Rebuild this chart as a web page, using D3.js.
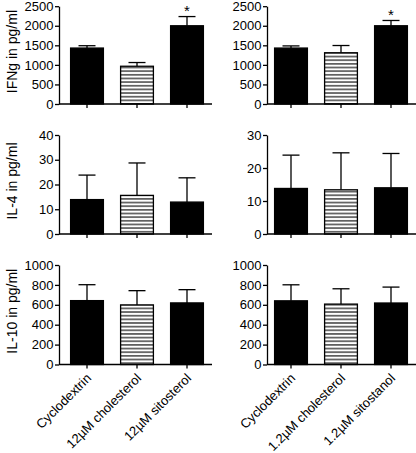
<!DOCTYPE html>
<html><head><meta charset="utf-8">
<script src="https://cdn.jsdelivr.net/npm/d3@7"></script>
<style>
html,body{margin:0;padding:0;background:#fff;}
svg{display:block;font-family:"Liberation Sans",Arial,Helvetica,sans-serif;}
</style></head>
<body>
<script>
// ---- data ----
const categoriesLeft = ["Cyclodextrin", "12\u00b5M cholesterol", "12\u00b5M sitosterol"];
const categoriesRight = ["Cyclodextrin", "1.2\u00b5M cholesterol", "1.2\u00b5M sitostanol"];
const fills = ["solid", "hatch", "solid"];

const ifngLeft = [1430, 965, 2000];
const ifngLeftErr = [60, 95, 235];
const ifngRight = [1430, 1310, 2000];
const ifngRightErr = [55, 185, 135];

const il4Left = [13.9, 15.6, 12.9];
const il4LeftErr = [9.9, 13.1, 9.8];
const il4Right = [13.8, 13.4, 14.0];
const il4RightErr = [10.1, 11.2, 10.4];

const il10Left = [642, 599, 619];
const il10LeftErr = [160, 143, 133];
const il10Right = [640, 607, 618];
const il10RightErr = [161, 154, 160];

const ifngTicks = [0, 500, 1000, 1500, 2000, 2500];
const il4LeftTicks = [0, 10, 20, 30, 40];
const il4RightTicks = [0, 10, 20, 30];
const il10Ticks = [0, 200, 400, 600, 800, 1000];

const starsLeft = [false, false, true];
const starsRight = [false, false, true];

const rowLabels = ["IFNg in pg/ml", "IL-4 in pg/ml", "IL-10 in pg/ml"];

// ---- layout ----
const W = 416, H = 453;
const svg = d3.select("body").append("svg").attr("width", W).attr("height", H);

const defs = svg.append("defs");
const pat = defs.append("pattern").attr("id", "hatch")
  .attr("patternUnits", "userSpaceOnUse").attr("width", 8).attr("height", 3.65);
pat.append("rect").attr("width", 8).attr("height", 3.65).attr("fill", "#fff");
pat.append("line").attr("x1", 0).attr("x2", 8).attr("y1", 1.8).attr("y2", 1.8)
  .attr("stroke", "#000").attr("stroke-width", 1.1);

const rows = [
  {top: 6.2, bottom: 104},
  {top: 135, bottom: 234},
  {top: 265, bottom: 364.5}
];
const cols = [
  {axisX: 59, bandStart: 62, end: 212, cats: categoriesLeft},
  {axisX: 267, bandStart: 266, end: 416, cats: categoriesRight}
];

const panels = [
  {r: 0, c: 0, vals: ifngLeft, errs: ifngLeftErr, ticks: ifngTicks, stars: starsLeft},
  {r: 0, c: 1, vals: ifngRight, errs: ifngRightErr, ticks: ifngTicks, stars: starsRight},
  {r: 1, c: 0, vals: il4Left, errs: il4LeftErr, ticks: il4LeftTicks, stars: null},
  {r: 1, c: 1, vals: il4Right, errs: il4RightErr, ticks: il4RightTicks, stars: null},
  {r: 2, c: 0, vals: il10Left, errs: il10LeftErr, ticks: il10Ticks, stars: null},
  {r: 2, c: 1, vals: il10Right, errs: il10RightErr, ticks: il10Ticks, stars: null}
];

const tickFont = 13, titleFont = 14, catFont = 13;

panels.forEach(p => {
  const row = rows[p.r], col = cols[p.c];
  const y = d3.scaleLinear().domain([0, d3.max(p.ticks)]).range([row.bottom, row.top]);
  const x = d3.scaleBand().domain(col.cats).range([col.bandStart, col.bandStart + 150])
    .paddingInner(0.32).paddingOuter(0.16);
  const g = svg.append("g");
  const data = col.cats.map((c, i) => ({c, v: p.vals[i], e: p.errs[i], f: fills[i], s: p.stars && p.stars[i]}));

  // error bars (upper only)
  data.forEach(d => {
    const cx = x(d.c) + x.bandwidth() / 2;
    g.append("line").attr("x1", cx).attr("x2", cx)
      .attr("y1", y(d.v)).attr("y2", y(d.v + d.e))
      .attr("stroke", "#000").attr("stroke-width", 1.3);
    g.append("line").attr("x1", cx - x.bandwidth() / 4).attr("x2", cx + x.bandwidth() / 4)
      .attr("y1", y(d.v + d.e)).attr("y2", y(d.v + d.e))
      .attr("stroke", "#000").attr("stroke-width", 1.3);
    if (d.s) {
      g.append("text").attr("x", cx).attr("y", y(d.v + d.e) - 0.5)
        .attr("text-anchor", "middle").attr("font-size", 15).text("*");
    }
  });

  // bars
  g.selectAll("rect.bar").data(data).enter().append("rect")
    .attr("class", "bar")
    .attr("x", d => x(d.c) + 0.6)
    .attr("width", x.bandwidth() - 1.2)
    .attr("y", d => y(d.v))
    .attr("height", d => y(0) - y(d.v))
    .attr("fill", d => d.f === "hatch" ? "url(#hatch)" : "#000")
    .attr("stroke", "#000").attr("stroke-width", 1.3);

  // y axis
  const ya = g.append("g").attr("transform", `translate(${col.axisX},0)`)
    .call(d3.axisLeft(y).tickValues(p.ticks).tickSize(4).tickSizeOuter(0).tickPadding(1.5).tickFormat(d3.format("d")));
  ya.selectAll("path,line").attr("stroke", "#000").attr("stroke-width", 1.3);
  ya.selectAll("text").attr("font-size", tickFont).attr("fill", "#000")
    .attr("font-family", "Liberation Sans, Arial, sans-serif");

  // x axis line
  g.append("line").attr("x1", col.axisX).attr("x2", col.end)
    .attr("y1", y(0)).attr("y2", y(0)).attr("stroke", "#000").attr("stroke-width", 1.3);
  const xa = g.append("g").attr("transform", `translate(0,${y(0)})`)
    .call(d3.axisBottom(x).tickSize(4).tickSizeOuter(0).tickFormat(p.r === 2 ? (d => d) : ""));
  xa.select(".domain").remove();
  xa.selectAll("line").attr("stroke", "#000").attr("stroke-width", 1.3);
  if (p.r === 2) {
    xa.selectAll("text")
      .attr("font-size", catFont).attr("fill", "#000")
      .attr("font-family", "Liberation Sans, Arial, sans-serif")
      .attr("text-anchor", "end")
      .attr("dx", "0").attr("dy", "0").attr("y", 0)
      .attr("transform", "translate(5,14.5) rotate(-45)");
  } else {
    xa.selectAll("text").remove();
  }
});

// row labels
rows.forEach((row, i) => {
  const cy = (row.top + row.bottom) / 2;
  svg.append("text").attr("transform", `translate(17,${cy - 3.5}) rotate(-90)`)
    .attr("text-anchor", "middle").attr("font-size", titleFont).attr("fill", "#000")
    .text(rowLabels[i]);
});
</script>
</body></html>
